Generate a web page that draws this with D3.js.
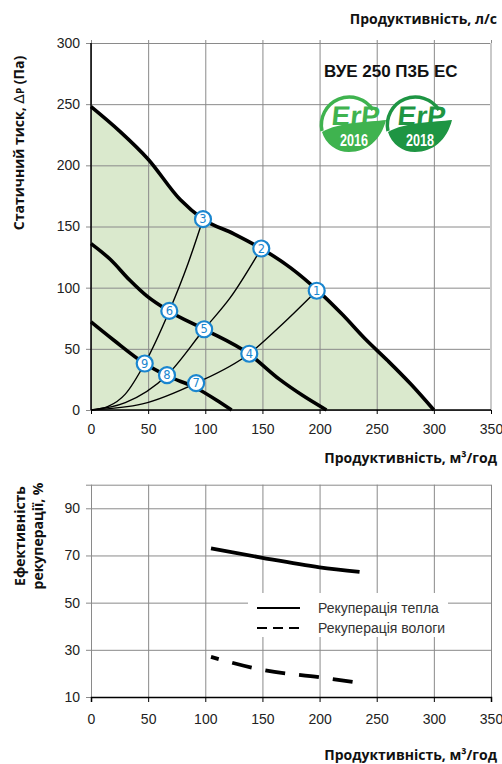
<!DOCTYPE html>
<html>
<head>
<meta charset="utf-8">
<script src="https://cdn.jsdelivr.net/npm/d3@7"></script>
<style>
  body { margin: 0; background: #fff; }
  .tick text { font-family: "Liberation Sans", Arial, sans-serif; font-size: 14px; fill: #222; }
  .title { font-family: "Open Sans", sans-serif; font-weight: 700; font-size: 14px; fill: #111; }
</style>
</head>
<body>
<div id="chart"></div>
<script>
// pressure chart: x = m3/h, y = Pa
var xTicks = [0, 50, 100, 150, 200, 250, 300, 350];
var pTicks = [0, 50, 100, 150, 200, 250, 300];
var effTicks = [10, 30, 50, 70, 90];

var fanMax = [[0,248],[25,228],[50,205],[78,172],[98,156],[125,144],[149,132],[175,116],[198,98],[220,78],[240,58],[260,40],[280,21],[300,0]];
var fanMid = [[0,136],[17,123],[34,106],[49,93],[68,81],[99,66],[138,46],[165,25],[185,12],[206,0]];
var fanMin = [[0,72],[20,57],[47,38],[66.5,28],[92,18],[110,8],[123,0]];

var sys1 = [[0,0],[15,3],[30,13],[47,38],[68.5,81],[85,120],[98,156]];
var sys2 = [[0,0],[30,6],[66.5,28.5],[99,66],[122,92],[149,132]];
var sys3 = [[0,0],[45,5],[92,22],[138.5,46],[165,68],[197.5,97.5]];

var points = [
  {n: 1, x: 197.5, y: 97.5}, {n: 2, x: 149, y: 132}, {n: 3, x: 98, y: 156},
  {n: 4, x: 138.5, y: 46}, {n: 5, x: 99, y: 66}, {n: 6, x: 68.5, y: 81},
  {n: 7, x: 92, y: 22}, {n: 8, x: 66.5, y: 28.5}, {n: 9, x: 47, y: 38}
];

// recuperation efficiency, %
var heatRec = [[105,73],[150,69],[200,65],[235,63]];
var humRec = [[105,27],[150,21.5],[200,18.4],[235,16]];

var svg = d3.select("#chart").append("svg")
  .attr("width", 502)
  .attr("height", 764);

var gridColor = "#8a8a8a";

// ---------- top chart ----------
var x1 = d3.scaleLinear().domain([0, 350]).range([91, 491]);
var y1 = d3.scaleLinear().domain([0, 300]).range([410, 43]);

var area = d3.area()
  .x(d => x1(d[0]))
  .y0(y1(0))
  .y1(d => y1(d[1]))
  .curve(d3.curveMonotoneX);

svg.append("path")
  .datum(fanMax)
  .attr("d", area)
  .attr("fill", "#dae9cd");

// vertical grid
svg.append("g")
  .attr("transform", "translate(0,40)")
  .call(d3.axisTop(x1).tickValues(xTicks).tickSize(-(410 - 40)).tickFormat(""))
  .call(g => g.select(".domain").remove())
  .call(g => g.selectAll("line").attr("stroke", gridColor));

// horizontal grid + labels
svg.append("g")
  .attr("transform", "translate(91,0)")
  .call(d3.axisLeft(y1).tickValues(pTicks).tickSize(5).tickPadding(6))
  .call(g => g.select(".domain").remove())
  .call(g => g.selectAll("line").attr("stroke", gridColor).attr("x2", 400).attr("x1", -5));

svg.append("line")
  .attr("x1", 491).attr("x2", 491).attr("y1", 43).attr("y2", 410)
  .attr("stroke", "#c9c9c9").attr("stroke-width", 2);

svg.append("g")
  .attr("transform", "translate(0,410)")
  .call(d3.axisBottom(x1).tickValues(xTicks).tickSize(4).tickPadding(10))
  .call(g => g.select(".domain").remove())
  .call(g => g.selectAll("line").attr("stroke", "#000"));

svg.append("line")
  .attr("x1", 91).attr("x2", 91).attr("y1", 43).attr("y2", 410)
  .attr("stroke", "#000").attr("stroke-width", 1.5);
svg.append("line")
  .attr("x1", 91).attr("x2", 491).attr("y1", 410).attr("y2", 410)
  .attr("stroke", "#000").attr("stroke-width", 1.5);

var line1 = d3.line()
  .x(d => x1(d[0]))
  .y(d => y1(d[1]))
  .curve(d3.curveMonotoneX);

[sys1, sys2, sys3].forEach(function (s) {
  svg.append("path")
    .datum(s)
    .attr("d", line1)
    .attr("fill", "none")
    .attr("stroke", "#000")
    .attr("stroke-width", 1.4);
});

[fanMax, fanMid, fanMin].forEach(function (s) {
  svg.append("path")
    .datum(s)
    .attr("d", line1)
    .attr("fill", "none")
    .attr("stroke", "#000")
    .attr("stroke-width", 3.6);
});

var mk = svg.selectAll(".mk")
  .data(points)
  .enter()
  .append("g")
  .attr("class", "mk")
  .attr("transform", d => `translate(${x1(d.x)},${y1(d.y)})`);

mk.append("circle")
  .attr("r", 8)
  .attr("fill", "#fff")
  .attr("stroke", "#1a86cf")
  .attr("stroke-width", 2.2);

mk.append("text")
  .text(d => d.n)
  .attr("text-anchor", "middle")
  .attr("dy", "0.36em")
  .attr("font-family", "DejaVu Sans, sans-serif")
  .attr("font-size", "11.5px")
  .attr("fill", "#1a86cf");

// titles
svg.append("text")
  .attr("class", "title")
  .attr("x", 497).attr("y", 24)
  .attr("text-anchor", "end")
  .text("Продуктивність, л/с");

var yt = svg.append("text")
  .attr("class", "title")
  .attr("transform", "translate(24,143) rotate(-90)")
  .attr("text-anchor", "middle");
yt.append("tspan").text("Статичний тиск, ");
yt.append("tspan").text("Δ").attr("font-weight", 400).attr("font-family", "DejaVu Sans, sans-serif");
yt.append("tspan").text("P").attr("font-size", "10px");
yt.append("tspan").text(" (Па)");

svg.append("text")
  .attr("class", "title")
  .attr("x", 497).attr("y", 463)
  .attr("text-anchor", "end")
  .text("Продуктивність, м³/год");

svg.append("text")
  .attr("x", 324).attr("y", 77)
  .attr("font-family", "Liberation Sans, Arial, sans-serif")
  .attr("font-weight", 700)
  .attr("font-size", "17px")
  .attr("fill", "#111")
  .text("ВУЕ 250 П3Б ЕС");

// ErP badges
function erp(cx, cy, year, col) {
  var r = 28;
  var g = svg.append("g");
  g.append("circle").attr("cx", cx).attr("cy", cy).attr("r", r).attr("fill", "#fff");
  g.append("path")
    .attr("d", `M${cx - 27},${cy + 7} A${r},${r} 0 0 1 ${cx + 24},${cy - 14}`)
    .attr("fill", "none").attr("stroke", col).attr("stroke-width", 3.5);
  g.append("path")
    .attr("d", `M${cx - 27},${cy + 8} C${cx - 10},${cy - 2} ${cx + 20},${cy - 2} ${cx + 37},${cy - 4}` +
      ` C${cx + 32},${cy + 16} ${cx + 18},${cy + 28} ${cx},${cy + 28} A${r},${r} 0 0 1 ${cx - 27},${cy + 8} Z`)
    .attr("fill", col);
  g.append("text")
    .attr("x", cx + 6).attr("y", cy + 1)
    .attr("text-anchor", "middle")
    .attr("font-family", "Liberation Sans, Arial, sans-serif")
    .attr("font-weight", 700)
    .attr("font-size", "27px")
    .attr("fill", col)
    .attr("transform", `skewX(-6)`)
    .attr("dx", 13)
    .attr("textLength", 48).attr("lengthAdjust", "spacingAndGlyphs")
    .text("ErP");
  g.append("text")
    .attr("x", cx + 5).attr("y", cy + 22)
    .attr("text-anchor", "middle")
    .attr("font-family", "Liberation Sans, Arial, sans-serif")
    .attr("font-weight", 700)
    .attr("font-size", "16px")
    .attr("fill", "#fff")
    .attr("textLength", 28).attr("lengthAdjust", "spacingAndGlyphs")
    .text(year);
}
erp(349, 124, "2016", "#3fb34f");
erp(415, 124, "2018", "#1e9543");

// ---------- bottom chart ----------
var x2 = d3.scaleLinear().domain([0, 350]).range([91, 491]);
var y2 = d3.scaleLinear().domain([10, 100]).range([697, 484.7]);

svg.append("g")
  .attr("transform", "translate(0,484.7)")
  .call(d3.axisTop(x2).tickValues(xTicks).tickSize(-(697 - 484.7)).tickFormat(""))
  .call(g => g.select(".domain").remove())
  .call(g => g.selectAll("line").attr("stroke", gridColor));

svg.append("g")
  .attr("transform", "translate(91,0)")
  .call(d3.axisLeft(y2).tickValues(effTicks.concat([100])).tickSize(5).tickPadding(6)
    .tickFormat(d => d == 100 ? "" : d))
  .call(g => g.select(".domain").remove())
  .call(g => g.selectAll("line").attr("stroke", gridColor).attr("x2", 400).attr("x1", -5));

svg.append("g")
  .attr("transform", "translate(0,697)")
  .call(d3.axisBottom(x2).tickValues(xTicks).tickSize(5).tickPadding(12))
  .call(g => g.select(".domain").attr("stroke", "#000").attr("stroke-width", 1.5))
  .call(g => g.selectAll("line").attr("stroke", "#000"));

var line2 = d3.line()
  .x(d => x2(d[0]))
  .y(d => y2(d[1]))
  .curve(d3.curveMonotoneX);

svg.append("path")
  .datum(heatRec)
  .attr("d", line2)
  .attr("fill", "none")
  .attr("stroke", "#000")
  .attr("stroke-width", 3.8);

svg.append("path")
  .datum(humRec)
  .attr("d", line2)
  .attr("fill", "none")
  .attr("stroke", "#000")
  .attr("stroke-width", 3.8)
  .attr("stroke-dasharray", "8,14,20,14,20,14,20,14,20,14");

// legend
var lg = svg.append("g");
lg.append("rect")
  .attr("x", 248).attr("y", 593).attr("width", 200).attr("height", 44)
  .attr("fill", "#fff");
lg.append("line")
  .attr("x1", 257).attr("x2", 300).attr("y1", 608).attr("y2", 608)
  .attr("stroke", "#000").attr("stroke-width", 2);
lg.append("line")
  .attr("x1", 257).attr("x2", 300).attr("y1", 628).attr("y2", 628)
  .attr("stroke", "#000").attr("stroke-width", 2)
  .attr("stroke-dasharray", "10,6");
lg.selectAll(".lt")
  .data(["Рекуперація тепла", "Рекуперація вологи"])
  .enter()
  .append("text")
  .attr("x", 318)
  .attr("y", (d, i) => 613 + i * 20)
  .attr("font-family", "Liberation Sans, Arial, sans-serif")
  .attr("font-size", "14px")
  .attr("fill", "#333")
  .text(d => d);

svg.append("text")
  .attr("class", "title")
  .attr("x", 497).attr("y", 760)
  .attr("text-anchor", "end")
  .text("Продуктивність, м³/год");

var et = svg.append("text")
  .attr("class", "title")
  .attr("transform", "translate(0,536) rotate(-90)")
  .attr("text-anchor", "middle");
et.append("tspan").attr("x", 0).attr("y", 25).text("Ефективність");
et.append("tspan").attr("x", 0).attr("y", 43).text("рекуперації, %");
</script>
</body>
</html>
